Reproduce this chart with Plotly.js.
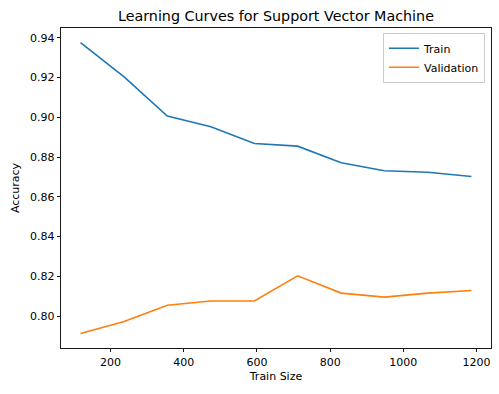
<!DOCTYPE html>
<html>
<head>
<meta charset="utf-8">
<script src="https://cdn.plot.ly/plotly-3.0.1.min.js"></script>
<style>html,body{margin:0;padding:0;background:#fff;}#chart{width:499px;height:394px;}</style>
</head>
<body>
<div id="chart"></div>
<script>
var trainSizes = [118, 237, 355, 474, 593, 711, 830, 948, 1067, 1186];
var trainScores = [0.9376, 0.9203, 0.9006, 0.8952, 0.8868, 0.8855, 0.8771, 0.8731, 0.8724, 0.8702];
var valScores = [0.7913, 0.7973, 0.8055, 0.8076, 0.8076, 0.8203, 0.8116, 0.8096, 0.8116, 0.8129];
var seriesNames = ["Train", "Validation"];
var xTicks = [200, 400, 600, 800, 1000, 1200];
var yTicks = [0.80, 0.82, 0.84, 0.86, 0.88, 0.90, 0.92, 0.94];

var font = "DejaVu Sans, sans-serif";
var traces = [
  {x: trainSizes, y: trainScores, mode: "lines", name: seriesNames[0], line: {color: "#1f77b4", width: 1.6}},
  {x: trainSizes, y: valScores, mode: "lines", name: seriesNames[1], line: {color: "#ff7f0e", width: 1.6}}
];
var axisCommon = {
  showgrid: false, zeroline: false, showline: true, mirror: true,
  linecolor: "#000", linewidth: 0.9, ticks: "outside", ticklen: 3.5, tickwidth: 0.9, tickcolor: "#000",
  tickfont: {family: font, size: 11, color: "#000"}
};
var layout = {
  width: 499, height: 394,
  margin: {l: 61, r: 8, t: 28, b: 46},
  paper_bgcolor: "#fff", plot_bgcolor: "#fff",
  font: {family: font, color: "#000"},
  title: {text: "Learning Curves for Support Vector Machine", font: {family: font, size: 14.3, color: "#000"}, x: 0.553, xanchor: "center", y: 0.959, yanchor: "middle"},
  xaxis: Object.assign({}, axisCommon, {
    range: [64.6, 1239.4], tickvals: xTicks, ticktext: xTicks.map(String),
    title: {text: "Train Size", font: {family: font, size: 11, color: "#000"}, standoff: 4}
  }),
  yaxis: Object.assign({}, axisCommon, {
    range: [0.7840, 0.9449], tickvals: yTicks, ticktext: yTicks.map(function(v){return v.toFixed(2);}),
    title: {text: "Accuracy", font: {family: font, size: 11, color: "#000"}, standoff: 8}
  }),
  legend: {
    x: 0.986, xanchor: "right", y: 0.985, yanchor: "top",
    bgcolor: "rgba(255,255,255,0.8)", bordercolor: "#ccc", borderwidth: 1,
    font: {family: font, size: 11, color: "#000"},
    tracegroupgap: 0, itemwidth: 30
  },
  showlegend: true
};
Plotly.newPlot("chart", traces, layout, {displayModeBar: false, staticPlot: true});
</script>
</body>
</html>
